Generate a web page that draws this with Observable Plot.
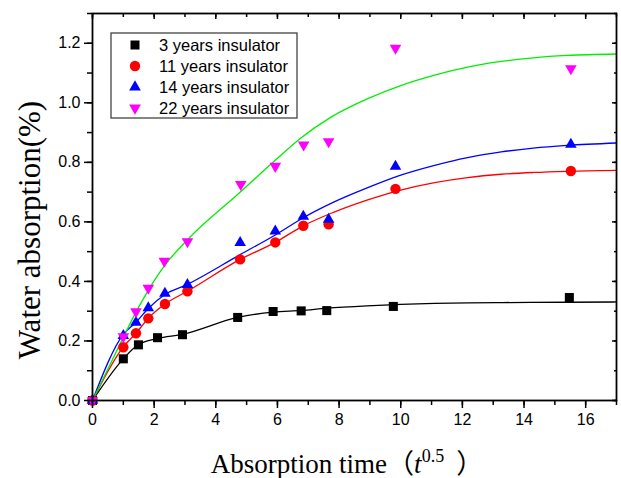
<!DOCTYPE html>
<html>
<head>
<meta charset="utf-8">
<script src="https://cdn.jsdelivr.net/npm/d3@7"></script>
<script src="https://cdn.jsdelivr.net/npm/@observablehq/plot@0.6"></script>
<style>
  html, body { margin: 0; padding: 0; background: #fff; }
  #chart { width: 621px; height: 478px; }
</style>
</head>
<body>
<div id="chart"></div>
<script>
// ---------- data ----------
const seriesNames = ["3 years insulator", "11 years insulator", "14 years insulator", "22 years insulator"];

const x3 = [0, 1.0, 1.49, 2.11, 2.92, 4.71, 5.86, 6.77, 7.6, 9.76, 15.47];
const y3 = [0, 0.14, 0.187, 0.211, 0.221, 0.279, 0.299, 0.301, 0.302, 0.316, 0.346];

const x11 = [0, 1.0, 1.41, 1.81, 2.35, 3.08, 4.79, 5.93, 6.84, 7.66, 9.83, 15.52];
const y11 = [0, 0.179, 0.226, 0.276, 0.324, 0.367, 0.474, 0.531, 0.587, 0.592, 0.711, 0.771];

const x14 = [0, 1.0, 1.41, 1.81, 2.35, 3.08, 4.79, 5.93, 6.84, 7.66, 9.83, 15.52];
const y14 = [0, 0.218, 0.262, 0.311, 0.36, 0.389, 0.53, 0.569, 0.618, 0.608, 0.786, 0.86];

const x22 = [0, 1.0, 1.41, 1.81, 2.33, 3.08, 4.81, 5.93, 6.85, 7.66, 9.83, 15.52];
const y22 = [0, 0.215, 0.299, 0.378, 0.468, 0.534, 0.726, 0.787, 0.859, 0.87, 1.184, 1.115];

// fitted curves, points
const fx3 = [0, 1.0, 1.49, 2.11, 2.92, 4.71, 5.86, 6.77, 7.6, 8.9, 10.0, 11.1, 12.2, 13.3, 15.4, 17];
const fy3 = [0, 0.14, 0.188, 0.208, 0.222, 0.279, 0.297, 0.3025, 0.31, 0.318, 0.323, 0.326, 0.328, 0.329, 0.330, 0.331];

const fx11 = [0, 1.0, 1.41, 1.81, 2.35, 3.08, 4.79, 5.93, 6.82, 7.84, 8.93, 10.0, 11.1, 12.17, 13.26, 14.3, 15.4, 17];
const fy11 = [0, 0.18, 0.226, 0.276, 0.324, 0.367, 0.474, 0.531, 0.586, 0.633, 0.674, 0.707, 0.732, 0.749, 0.760, 0.766, 0.770, 0.773];

const fx14 = [0, 1.0, 1.41, 1.81, 2.35, 3.06, 4.79, 5.93, 6.84, 7.84, 8.93, 10.0, 11.1, 12.17, 13.26, 14.3, 15.4, 17];
const fy14 = [0, 0.222, 0.263, 0.309, 0.356, 0.389, 0.49, 0.556, 0.614, 0.667, 0.715, 0.757, 0.790, 0.816, 0.835, 0.848, 0.857, 0.865];

const fx22 = [0, 1.0, 1.41, 1.81, 2.33, 3.08, 4.76, 5.93, 6.76, 7.74, 8.93, 10.0, 11.1, 12.17, 13.26, 14.3, 15.4, 17];
const fy22 = [0, 0.212, 0.297, 0.37, 0.452, 0.54, 0.697, 0.807, 0.882, 0.952, 1.014, 1.058, 1.093, 1.120, 1.139, 1.151, 1.159, 1.164];

const xMajorTicks = [0, 2, 4, 6, 8, 10, 12, 14, 16];
const xMinorTicks = [0, 1, 2, 3, 4, 5, 6, 7, 8, 9, 10, 11, 12, 13, 14, 15, 16, 17];
const yMajorTicks = [0, 0.2, 0.4, 0.6, 0.8, 1.0, 1.2];
const yMinorTicks = [0, 0.1, 0.2, 0.3, 0.4, 0.5, 0.6, 0.7, 0.8, 0.9, 1.0, 1.1, 1.2, 1.3];

const xTitle = "Absorption time（";
const xTitleVar = "t";
const xTitleExp = "0.5";
const xTitleEnd = "）";
const yTitle = "Water absorption(%)";

// ---------- build tables ----------
const zip = (xs, ys) => xs.map((x, i) => ({x, y: ys[i]}));
const pts = [zip(x3, y3), zip(x11, y11), zip(x14, y14), zip(x22, y22)];
const fits = [zip(fx3, fy3), zip(fx11, fy11), zip(fx14, fy14), zip(fx22, fy22)];

const markerColors = ["#000000", "#ff0000", "#0000ff", "#ff00ff"];
const lineColors = ["#000000", "#ff0000", "#0000ff", "#00ee00"];

const invTriangle = {
  draw(context, size) {
    const y = -Math.sqrt(size / (Math.sqrt(3) * 3));
    context.moveTo(0, -y * 2);
    context.lineTo(-Math.sqrt(3) * y, y);
    context.lineTo(Math.sqrt(3) * y, y);
    context.closePath();
  }
};
const symbols = ["square", "circle", "triangle", invTriangle];
const radii = [5.1, 5.2, 4.3, 4.3];

const chart = Plot.plot({
  width: 621,
  height: 478,
  marginLeft: 92,
  marginRight: 5,
  marginTop: 13,
  marginBottom: 78,
  style: {fontFamily: "'Liberation Sans', Arial, sans-serif", fontSize: "16px", color: "#000", background: "#fff", overflow: "visible"},
  x: {domain: [0, 17]},
  y: {domain: [0, 1.3]},
  marks: [
    ...fits.map((f, i) => Plot.line(f, {x: "x", y: "y", stroke: lineColors[i], strokeWidth: 1.3, curve: "monotone-x"})),
    ...pts.map((p, i) => Plot.dot(p, {x: "x", y: "y", symbol: () => symbols[i], r: radii[i], fill: markerColors[i], stroke: "none"})),
    Plot.axisX(xMajorTicks, {tickSize: 8, tickPadding: 5, tickFormat: d => String(d), label: null, strokeWidth: 1.5}),
    Plot.axisX(xMinorTicks, {tickSize: 5, tickFormat: () => "", label: null, strokeWidth: 1.5}),
    Plot.axisX(xMajorTicks, {anchor: "top", tickSize: -5, tickFormat: () => "", label: null, strokeWidth: 1.5}),
    Plot.axisX(xMinorTicks, {anchor: "top", tickSize: -3, tickFormat: () => "", label: null, strokeWidth: 1.5}),
    Plot.axisY(yMajorTicks, {tickSize: 8, tickPadding: 4, tickFormat: d3.format(".1f"), label: null, strokeWidth: 1.5}),
    Plot.axisY(yMinorTicks, {tickSize: 5, tickFormat: () => "", label: null, strokeWidth: 1.5}),
    Plot.axisY(yMajorTicks, {anchor: "right", tickSize: -5, tickFormat: () => "", label: null, strokeWidth: 1.5}),
    Plot.axisY(yMinorTicks, {anchor: "right", tickSize: -3, tickFormat: () => "", label: null, strokeWidth: 1.5}),
    Plot.frame({stroke: "#000", strokeWidth: 1.8})
  ]
});

document.getElementById("chart").appendChild(chart);

const svg = d3.select(chart);
const serif = "'Liberation Serif', 'Times New Roman', serif";

// y title
svg.append("text")
  .attr("transform", "translate(40,230) rotate(-90)")
  .attr("text-anchor", "middle")
  .style("font-family", serif)
  .style("font-size", "31px")
  .attr("fill", "#000")
  .text(yTitle);

// x title
const xt = svg.append("text")
  .attr("x", 347).attr("y", 473)
  .attr("text-anchor", "middle")
  .style("font-family", serif + ", 'Noto Sans CJK SC'")
  .style("font-size", "27px")
  .attr("fill", "#000");
xt.append("tspan").text(xTitle);
xt.append("tspan").attr("font-style", "italic").text(xTitleVar);
xt.append("tspan").attr("font-size", "18px").attr("dy", -11).text(xTitleExp);
xt.append("tspan").attr("dy", 11).attr("dx", 12).text(xTitleEnd);

// legend
const lg = svg.append("g");
lg.append("rect")
  .attr("x", 111).attr("y", 33).attr("width", 186).attr("height", 85)
  .attr("fill", "#fff").attr("stroke", "#444").attr("stroke-width", 1.3);
const rowY = [45, 66, 87, 108];
const legendSizes = [81, 85, 60, 60];
seriesNames.forEach((name, i) => {
  const sym = typeof symbols[i] === "string"
    ? {square: d3.symbolSquare, circle: d3.symbolCircle, triangle: d3.symbolTriangle}[symbols[i]]
    : symbols[i];
  lg.append("path")
    .attr("d", d3.symbol(sym, legendSizes[i])())
    .attr("transform", `translate(135,${rowY[i]})`)
    .attr("fill", markerColors[i]);
  lg.append("text")
    .attr("x", 159).attr("y", rowY[i])
    .attr("dy", "0.36em")
    .attr("text-anchor", "start")
    .style("font-family", "'Liberation Sans', Arial, sans-serif")
    .style("font-size", "16.5px")
    .attr("fill", "#000")
    .text(name);
});
</script>
</body>
</html>
